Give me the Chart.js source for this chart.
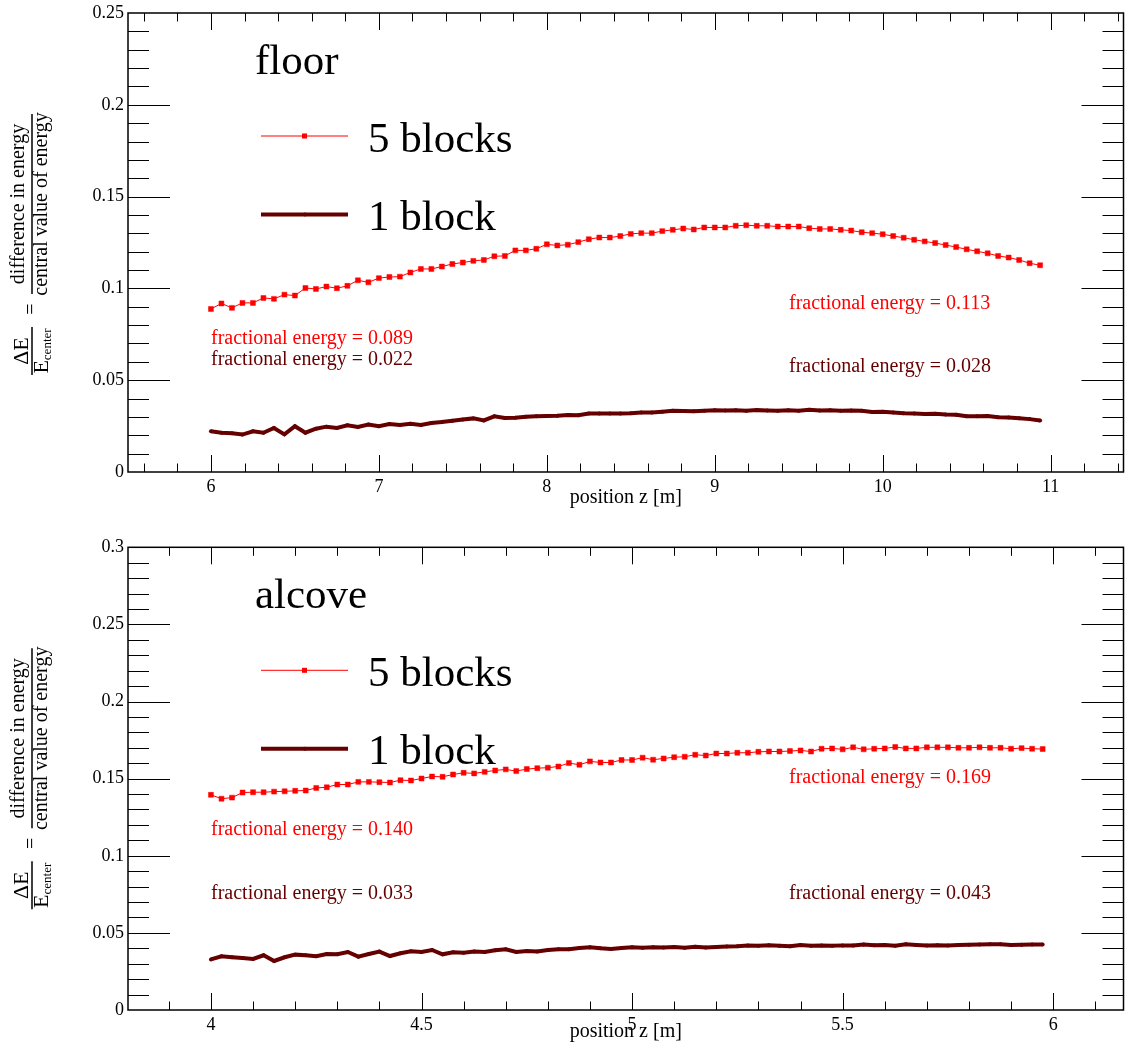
<!DOCTYPE html>
<html>
<head>
<meta charset="utf-8">
<script src="https://cdn.jsdelivr.net/npm/chart.js@4.4.1/dist/chart.umd.min.js"></script>
<style>
body { margin: 0; background: #fff; }
#wrap { position: relative; width: 1128px; height: 1047px; }
canvas { position: absolute; left: 0; }
</style>
</head>
<body>
<div id="wrap">
<canvas id="floorChart" width="1128" height="523" style="top:0px"></canvas>
<canvas id="alcoveChart" width="1128" height="524" style="top:523px"></canvas>
</div>
<script>
const serif = '"Liberation Serif", "DejaVu Serif", serif';
const red = '#ff0000';
const darkRed = '#660000';

// z grid (m) of the scan
const floorZStart = 6, floorZStep = 0.0625;
const alcoveZStart = 4, alcoveZStep = 0.025;

const floorXTicks = [6, 7, 8, 9, 10, 11];
const floorYTicks = [0, 0.05, 0.1, 0.15, 0.2, 0.25];
const alcoveXTicks = [4, 4.5, 5, 5.5, 6];
const alcoveYTicks = [0, 0.05, 0.1, 0.15, 0.2, 0.25, 0.3];

const seriesNames = ['5 blocks', '1 block'];

const floorFiveBlocks = [
  0.0888, 0.0918, 0.0894, 0.0921, 0.0921, 0.0948, 0.0943, 0.0966, 0.0961, 0.1002,
  0.0997, 0.1010, 0.1001, 0.1014, 0.1044, 0.1033, 0.1056, 0.1062, 0.1064, 0.1087,
  0.1106, 0.1106, 0.1119, 0.1133, 0.1141, 0.1150, 0.1155, 0.1175, 0.1177, 0.1207,
  0.1207, 0.1216, 0.1240, 0.1234, 0.1238, 0.1252, 0.1268, 0.1277, 0.1277, 0.1285,
  0.1297, 0.1301, 0.1301, 0.1312, 0.1319, 0.1326, 0.1321, 0.1332, 0.1332, 0.1332,
  0.1341, 0.1344, 0.1341, 0.1341, 0.1337, 0.1337, 0.1337, 0.1328, 0.1324, 0.1324,
  0.1319, 0.1315, 0.1306, 0.1301, 0.1295, 0.1285, 0.1276, 0.1265, 0.1256, 0.1247,
  0.1236, 0.1225, 0.1213, 0.1202, 0.1191, 0.1177, 0.1168, 0.1155, 0.1137, 0.1126
];
const floorOneBlock = [
  0.0222, 0.0214, 0.0211, 0.0204, 0.0222, 0.0214, 0.0240, 0.0205, 0.0249, 0.0214,
  0.0236, 0.0247, 0.0240, 0.0254, 0.0245, 0.0259, 0.0249, 0.0261, 0.0256, 0.0263,
  0.0256, 0.0267, 0.0272, 0.0279, 0.0286, 0.0292, 0.0281, 0.0303, 0.0294, 0.0295,
  0.0301, 0.0303, 0.0305, 0.0306, 0.0310, 0.0309, 0.0318, 0.0319, 0.0319, 0.0318,
  0.0320, 0.0324, 0.0324, 0.0328, 0.0333, 0.0332, 0.0331, 0.0334, 0.0336, 0.0335,
  0.0336, 0.0334, 0.0337, 0.0335, 0.0333, 0.0336, 0.0333, 0.0339, 0.0335, 0.0336,
  0.0334, 0.0335, 0.0333, 0.0327, 0.0328, 0.0324, 0.0320, 0.0318, 0.0316, 0.0317,
  0.0313, 0.0312, 0.0304, 0.0304, 0.0305, 0.0298, 0.0297, 0.0293, 0.0288, 0.0281
];
const alcoveFiveBlocks = [
  0.1395, 0.1370, 0.1377, 0.1410, 0.1412, 0.1412, 0.1416, 0.1418, 0.1421, 0.1423,
  0.1440, 0.1444, 0.1462, 0.1462, 0.1479, 0.1479, 0.1477, 0.1475, 0.1490, 0.1488,
  0.1501, 0.1514, 0.1512, 0.1527, 0.1538, 0.1534, 0.1544, 0.1553, 0.1560, 0.1549,
  0.1562, 0.1568, 0.1571, 0.1579, 0.1601, 0.1590, 0.1612, 0.1605, 0.1605, 0.1621,
  0.1621, 0.1636, 0.1623, 0.1631, 0.1639, 0.1642, 0.1655, 0.1650, 0.1663, 0.1663,
  0.1668, 0.1668, 0.1674, 0.1676, 0.1676, 0.1679, 0.1683, 0.1676, 0.1694, 0.1696,
  0.1690, 0.1703, 0.1690, 0.1694, 0.1696, 0.1705, 0.1696, 0.1696, 0.1703, 0.1703,
  0.1703, 0.1700, 0.1700, 0.1703, 0.1700, 0.1700, 0.1694, 0.1698, 0.1694, 0.1692
];
const alcoveOneBlock = [
  0.0328, 0.0348, 0.0342, 0.0337, 0.0331, 0.0355, 0.0318, 0.0342, 0.0359, 0.0355,
  0.0348, 0.0363, 0.0361, 0.0376, 0.0346, 0.0363, 0.0379, 0.0350, 0.0368, 0.0381,
  0.0376, 0.0389, 0.0361, 0.0374, 0.0372, 0.0379, 0.0376, 0.0387, 0.0394, 0.0376,
  0.0383, 0.0379, 0.0389, 0.0394, 0.0394, 0.0402, 0.0407, 0.0400, 0.0396, 0.0402,
  0.0407, 0.0404, 0.0407, 0.0405, 0.0408, 0.0404, 0.0410, 0.0406, 0.0409, 0.0412,
  0.0414, 0.0418, 0.0417, 0.0420, 0.0416, 0.0413, 0.0421, 0.0417, 0.0418, 0.0416,
  0.0419, 0.0418, 0.0425, 0.0420, 0.0421, 0.0416, 0.0426, 0.0422, 0.0419, 0.0420,
  0.0419, 0.0421, 0.0423, 0.0424, 0.0426, 0.0427, 0.0422, 0.0423, 0.0425, 0.0425
];

// fractional energy printed at start / end of each curve
const floorFractions = [0.089, 0.022, 0.113, 0.028];
const alcoveFractions = [0.140, 0.033, 0.169, 0.043];

function minorValues(major, min, max) {
  const step = (major[1] - major[0]) / 5;
  const out = [];
  for (let k = Math.ceil(min / step - 1e-6); k * step <= max + 1e-9; k++) {
    const v = k * step;
    const m = v / (step * 5);
    out.push({ v: v, major: Math.abs(m - Math.round(m)) < 1e-6 });
  }
  return out;
}

const rootFrame = {
  id: 'rootFrame',
  beforeDatasetsDraw(chart, args, opts) {
    const { ctx, chartArea: a, scales: { x, y } } = chart;
    ctx.save();
    ctx.strokeStyle = '#000';
    ctx.lineWidth = 1;
    ctx.beginPath();
    minorValues(opts.xTicks, x.min, x.max).forEach(t => {
      const px = Math.round(x.getPixelForValue(t.v)) + 0.5;
      if (px <= a.left + 1 || px >= a.right - 1) return;
      const len = t.major ? 17 : 8.5;
      ctx.moveTo(px, a.bottom); ctx.lineTo(px, a.bottom - len);
      ctx.moveTo(px, a.top); ctx.lineTo(px, a.top + len);
    });
    minorValues(opts.yTicks, y.min, y.max).forEach(t => {
      const py = Math.round(y.getPixelForValue(t.v)) + 0.5;
      if (py <= a.top + 1 || py >= a.bottom - 1) return;
      const len = t.major ? 42 : 21;
      ctx.moveTo(a.left, py); ctx.lineTo(a.left + len, py);
      ctx.moveTo(a.right, py); ctx.lineTo(a.right - len, py);
    });
    ctx.stroke();
    ctx.lineWidth = 1.5;
    ctx.strokeRect(a.left, a.top, a.right - a.left, a.bottom - a.top);
    ctx.restore();
  },
  afterDatasetsDraw(chart, args, opts) {
    const { ctx, chartArea: a } = chart;
    const ds = chart.data.datasets;
    ctx.save();
    ctx.textBaseline = 'alphabetic';
    ctx.textAlign = 'left';

    // panel name
    ctx.fillStyle = '#000';
    ctx.font = '43px ' + serif;
    ctx.fillText(opts.name, 255, a.top + 61);

    // legend
    [123, 201.5].forEach((dy, i) => {
      const d = ds[i];
      const ly = a.top + dy;
      ctx.strokeStyle = d.borderColor;
      ctx.lineWidth = d.borderWidth;
      ctx.beginPath();
      ctx.moveTo(261, ly); ctx.lineTo(348, ly);
      ctx.stroke();
      ctx.fillStyle = d.borderColor;
      if (d.pointStyle === 'rect') {
        ctx.fillRect(302, ly - 2.5, 5, 5);
      } else {
        ctx.beginPath(); ctx.arc(305, ly, 2, 0, Math.PI * 2); ctx.fill();
      }
      ctx.fillStyle = '#000';
      ctx.font = '43px ' + serif;
      ctx.fillText(d.label, 368, ly + 15.5);
    });

    // fractional energy labels
    ctx.font = '20px ' + serif;
    opts.notes.forEach((n, i) => {
      ctx.fillStyle = i % 2 === 0 ? red : darkRed;
      ctx.fillText('fractional energy = ' + opts.fractions[i].toFixed(3), n.x, a.top + n.dy);
    });

    // x axis title
    ctx.fillStyle = '#000';
    ctx.textAlign = 'center';
    ctx.font = '20px ' + serif;
    ctx.fillText('position z [m]', (a.left + a.right) / 2, a.bottom + opts.xTitleGap);

    // y axis title: ΔE/E_center = difference in energy / central value of energy
    ctx.translate(32, a.top + 362);
    ctx.rotate(-Math.PI / 2);
    ctx.strokeStyle = '#000';
    ctx.lineWidth = 1.5;
    ctx.beginPath();
    ctx.moveTo(0, 0); ctx.lineTo(48, 0);
    ctx.moveTo(81, 0); ctx.lineTo(261, 0);
    ctx.stroke();
    ctx.font = '22px ' + serif;
    ctx.fillText('\u0394E', 24, -4);
    const eW = ctx.measureText('E').width;
    ctx.font = '13px ' + serif;
    const cW = ctx.measureText('center').width;
    const s0 = 24 - (eW + cW) / 2;
    ctx.textAlign = 'left';
    ctx.font = '22px ' + serif;
    ctx.fillText('E', s0, 15.5);
    ctx.font = '13px ' + serif;
    ctx.fillText('center', s0 + eW, 19);
    ctx.textAlign = 'center';
    ctx.font = '20px ' + serif;
    ctx.textBaseline = 'middle';
    ctx.fillText('=', 66, 0);
    ctx.textBaseline = 'alphabetic';
    ctx.fillText('difference in energy', 171, -8);
    ctx.fillText('central value of energy', 171, 15);
    ctx.restore();
  }
};

function makeChart(id, cfg) {
  const tickFont = { family: serif, size: 18, lineHeight: 1 };
  return new Chart(document.getElementById(id), {
    type: 'line',
    data: {
      datasets: [
        {
          label: seriesNames[0],
          data: cfg.five.map((v, i) => ({ x: cfg.zStart + i * cfg.zStep, y: v })),
          borderColor: red,
          backgroundColor: red,
          borderWidth: 1,
          pointStyle: 'rect',
          pointRadius: 3.5,
          pointBorderWidth: 0.5,
          tension: 0
        },
        {
          label: seriesNames[1],
          data: cfg.one.map((v, i) => ({ x: cfg.zStart + i * cfg.zStep, y: v })),
          borderColor: darkRed,
          backgroundColor: darkRed,
          borderWidth: 4,
          pointStyle: 'circle',
          pointRadius: 2,
          pointBorderWidth: 0,
          tension: 0
        }
      ]
    },
    options: {
      responsive: false,
      animation: false,
      devicePixelRatio: 1,
      events: [],
      layout: { padding: { left: 0, right: 4, top: cfg.padTop, bottom: 0 } },
      scales: {
        x: {
          type: 'linear',
          min: cfg.xMin,
          max: cfg.xMax,
          afterBuildTicks: s => { s.ticks = cfg.xTicks.map(v => ({ value: v })); },
          afterFit: s => { s.height = cfg.xHeight; },
          grid: { display: false, drawTicks: false },
          border: { display: false },
          ticks: { autoSkip: false, maxRotation: 0, padding: 6, color: '#000', font: tickFont, callback: v => String(v) }
        },
        y: {
          type: 'linear',
          min: 0,
          max: cfg.yMax,
          afterBuildTicks: s => { s.ticks = cfg.yTicks.map(v => ({ value: v })); },
          afterFit: s => { s.width = 128; },
          grid: { display: false, drawTicks: false },
          border: { display: false },
          ticks: { autoSkip: false, padding: 4, color: '#000', font: tickFont, callback: v => String(v) }
        }
      },
      plugins: {
        legend: { display: false },
        tooltip: { enabled: false },
        rootFrame: {
          name: cfg.name,
          xTicks: cfg.xTicks,
          yTicks: cfg.yTicks,
          fractions: cfg.fractions,
          notes: cfg.notes,
          xTitleGap: cfg.xTitleGap
        }
      }
    },
    plugins: [rootFrame]
  });
}

makeChart('floorChart', {
  name: 'floor',
  five: floorFiveBlocks, one: floorOneBlock,
  zStart: floorZStart, zStep: floorZStep,
  xMin: 5.506, xMax: 11.434, yMax: 0.25,
  xTicks: floorXTicks, yTicks: floorYTicks,
  fractions: floorFractions,
  notes: [{ x: 211, dy: 331 }, { x: 211, dy: 352 }, { x: 789, dy: 296 }, { x: 789, dy: 359 }],
  padTop: 9.3, xHeight: 51, xTitleGap: 31
});

makeChart('alcoveChart', {
  name: 'alcove',
  five: alcoveFiveBlocks, one: alcoveOneBlock,
  zStart: alcoveZStart, zStep: alcoveZStep,
  xMin: 3.803, xMax: 6.167, yMax: 0.3,
  xTicks: alcoveXTicks, yTicks: alcoveYTicks,
  fractions: alcoveFractions,
  notes: [{ x: 211, dy: 288 }, { x: 211, dy: 352 }, { x: 789, dy: 236 }, { x: 789, dy: 352 }],
  padTop: 24.3, xHeight: 37, xTitleGap: 27
});
</script>
</body>
</html>
